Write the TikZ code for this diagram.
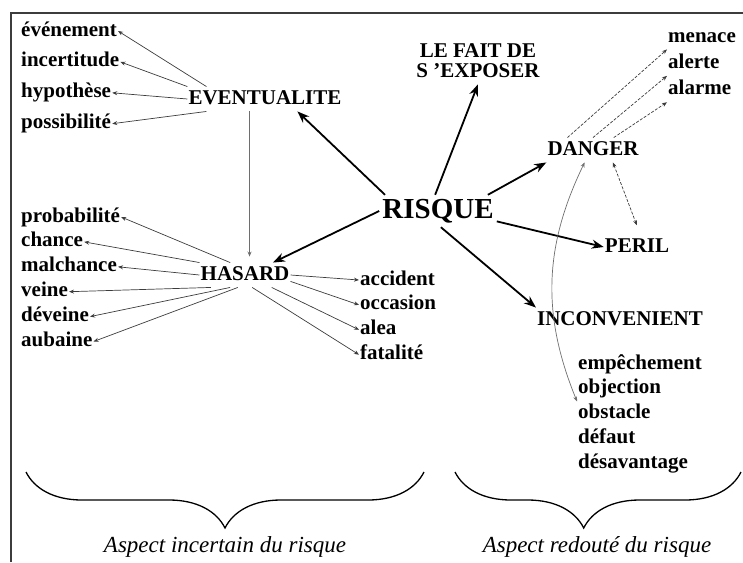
\documentclass[tikz,border=0pt]{standalone}
\usepackage{fontspec}
\setmainfont{Liberation Serif}
\usetikzlibrary{arrows.meta, positioning, decorations.pathreplacing}
\definecolor{darkgray}{RGB}{60,60,60}
\definecolor{linegray}{RGB}{110,110,110}

\begin{document}
\begin{tikzpicture}[
				x=1pt, y=-1pt,
				node distance=0pt,
				>={Stealth[length=5pt, width=4pt]},
				word/.style={font=\fontsize{21}{20}\selectfont\bfseries, inner xsep=1pt, inner ysep=3.25pt,
					text height=14pt, text depth=4pt},
				item/.style={word, anchor=west},
				big/.style={font=\fontsize{29}{30}\selectfont\bfseries, inner sep=3pt,
					text height=20pt, text depth=6pt},
				caption/.style={font=\fontsize{23}{24}\selectfont\itshape},
				arrow/.style={-{Stealth[length=12pt, width=9pt]}, line width=1.8pt},
				thinarrow/.style={->, line width=0.7pt, color=darkgray},
				dasharrow/.style={thinarrow, dash pattern=on 3pt off 1.5pt},
				bracket/.style={decorate, decoration={brace, amplitude=56pt, mirror}, line width=1.3pt}
				]
				\useasboundingbox (0,0) rectangle (743,562);
				\draw[line width=1.2pt, darkgray] (11,562) -- (11,13) -- (743,13);

				% main notions
				\node[big] (risque) at (438,211) {RISQUE};
				\node[word] (evt) at (265,99) {EVENTUALITE};
				\node[font=\fontsize{21}{20}\selectfont\bfseries, align=center, inner sep=6pt] (fait) at (478,61) {LE FAIT DE\\S 'EXPOSER};
				\node[word] (danger) at (593,150) {DANGER};
				\node[word] (peril) at (637,247) {PERIL};
				\node[word] (incon) at (620,320) {INCONVENIENT};
				\node[word] (hasard) at (245,275) {HASARD};

				% words
				\node[item] (evenement) at (20,31) {événement};
				\node[item, below=6pt of evenement.south west, anchor=north west] (incertitude) {incertitude};
				\node[item, below=6pt of incertitude.south west, anchor=north west] (hypothese) {hypothèse};
				\node[item, below=6pt of hypothese.south west, anchor=north west] (possibilite) {possibilité};

				\node[item] (probabilite) at (20,217) {probabilité};
				\node[item, below=of probabilite.south west, anchor=north west] (chance) {chance};
				\node[item, below=of chance.south west, anchor=north west] (malchance) {malchance};
				\node[item, below=of malchance.south west, anchor=north west] (veine) {veine};
				\node[item, below=of veine.south west, anchor=north west] (deveine) {déveine};
				\node[item, below=of deveine.south west, anchor=north west] (aubaine) {aubaine};

				\node[item] (accident) at (359,280) {accident};
				\node[item, below=of accident.south west, anchor=north west] (occasion) {occasion};
				\node[item, below=of occasion.south west, anchor=north west] (alea) {alea};
				\node[item, below=of alea.south west, anchor=north west] (fatalite) {fatalité};

				\node[item] (menace) at (667,37) {menace};
				\node[item, below=1.5pt of menace.south west, anchor=north west] (alerte) {alerte};
				\node[item, below=1.5pt of alerte.south west, anchor=north west] (alarme) {alarme};

				\node[item] (empechement) at (577,364) {empêchement};
				\node[item, below=of empechement.south west, anchor=north west] (objection) {objection};
				\node[item, below=of objection.south west, anchor=north west] (obstacle) {obstacle};
				\node[item, below=of obstacle.south west, anchor=north west] (defaut) {défaut};
				\node[item, below=of defaut.south west, anchor=north west] (desavantage) {désavantage};

				\node[caption] (incertain) at (225,547) {Aspect incertain du risque};
				\node[caption] (redoute) at (597,547) {Aspect redouté du risque};

				\draw[arrow] (risque.163) -- (evt.-21);
				\draw[arrow] (risque.100) -- (fait.south);
				\draw[arrow] (risque.18) -- (danger.south west);
				\draw[arrow] (risque.-10) -- (peril.west);
				\draw[arrow] (risque.-80) -- (incon.north west);
				\draw[arrow] (risque.west) -- (hasard.24);

				\draw[thinarrow] (evt.168) -- (evenement.east);
				\draw[thinarrow] (evt.north west) -- (incertitude.east);
				\draw[thinarrow] (evt.west) -- (hypothese.east);
				\draw[thinarrow] (evt.-168) -- (possibilite.east);
				\draw[thinarrow, linegray, shorten >=6pt] (evt.south -| hasard.70) -- (hasard.70);

				\draw[thinarrow] (hasard.140) -- (probabilite.east);
				\draw[thinarrow] (hasard.north west) -- (chance.east);
				\draw[thinarrow] (hasard.west) -- (malchance.east);
				\draw[thinarrow] (hasard.200) -- (veine.east);
				\draw[thinarrow] (hasard.220) -- (deveine.east);
				\draw[thinarrow] (hasard.240) -- (aubaine.east);
				\draw[thinarrow] (hasard.east) -- (accident.west);
				\draw[thinarrow] (hasard.-8) -- (occasion.west);
				\draw[thinarrow] (hasard.-25) -- (alea.west);
				\draw[thinarrow] (hasard.-60) -- (fatalite.west);

				\draw[dasharrow] (danger.154) -- (menace.south west);
				\draw[dasharrow] (danger.north) -- (alerte.south west);
				\draw[dasharrow] (danger.31) -- (alarme.south west);
				\draw[dasharrow, <->, shorten >=10pt] (danger.-32) -- (peril.75);
				\draw[thinarrow, linegray, <->] (objection.south west) to[bend left=24] (danger.-124);

				% the two aspects
				\draw[bracket] (26,472) -- (424,472);
				\draw[bracket, decoration={aspect=0.45}] (455,472) -- (741,472);
			\end{tikzpicture}
\end{document}
